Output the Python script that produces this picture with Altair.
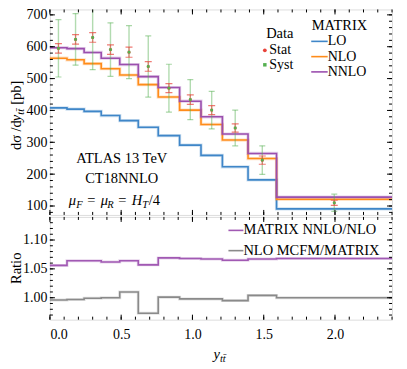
import altair as alt
import pandas as pd

# ---------------- data ----------------
edges = [0.0, 0.12, 0.24, 0.36, 0.49, 0.62, 0.76, 0.91, 1.06, 1.21, 1.39, 1.59, 2.4]
lo = [408, 404, 397, 384, 368, 347, 321, 291, 259, 223, 182, 91]
nlo = [564, 559, 547, 531, 511, 481, 442, 401, 356, 307, 249, 121]
nnlo = [597, 594, 582, 564, 544, 506, 472, 429, 380, 326, 265, 128]
data_val = [595, 623, 629, 591, 583, 538, 470, 434, 401, 345, 244, 110]
stat_err = [15, 15, 15, 15, 16, 15, 14, 15, 14, 13, 13, 8]
syst_err = [90, 81, 101, 84, 83, 96, 75, 63, 59, 56, 45, 27]
ratio_nnlo_nlo = [1.056, 1.064, 1.064, 1.062, 1.064, 1.057, 1.069, 1.068, 1.067, 1.065, 1.067, 1.068]
ratio_mcfm = [0.996, 0.997, 0.999, 1.000, 1.010, 0.973, 1.001, 0.998, 0.998, 0.995, 1.004, 1.000]

x_major = [0.0, 0.5, 1.0, 1.5, 2.0]
x_minor = [round(0.1 * i, 1) for i in range(25)]
y_major = [100, 200, 300, 400, 500, 600, 700]
y_minor = list(range(80, 720, 20))
r_major = [1.00, 1.05, 1.10]
r_minor = [round(0.97 + 0.01 * i, 2) for i in range(17)]

series_names = ["LO", "NLO", "NNLO"]
series_colors = ["#3f86c8", "#ff8c1a", "#9b4fae"]
ratio_names = ["MATRIX NNLO/NLO", "NLO MCFM/MATRIX"]
ratio_colors = ["#a159b3", "#8a8a8a"]

# ---------------- layout / style ----------------
W, H, HR = 343, 206, 103
FONT = "Liberation Serif"
FS = 14.5
GREEN = "#55b04f"
RED = "#e8433a"

xs = alt.Scale(domain=[0, 2.4], nice=False, zero=False)
ys = alt.Scale(domain=[72, 717], nice=False, zero=False)
rs = alt.Scale(domain=[0.962, 1.140], nice=False, zero=False)

y_axis = alt.Axis(values=y_major, ticks=False, domain=False, grid=False, title=None,
                  labelPadding=3, labelFont=FONT, labelFontSize=14, labelColor="black")
r_axis = alt.Axis(values=r_major, format=".2f", ticks=False, domain=False, grid=False, title=None,
                  labelPadding=3, labelFont=FONT, labelFontSize=14, labelColor="black")
x_axis = alt.Axis(values=x_major, format=".1f", ticks=False, domain=False, grid=False, title=None,
                  labelPadding=8, labelFont=FONT, labelFontSize=14, labelColor="black")


def xm(f):
    return alt.X(f, type="quantitative", scale=xs, axis=None)


def xr(f):
    return alt.X(f, type="quantitative", scale=xs, axis=x_axis)


def ym(f):
    return alt.Y(f, type="quantitative", scale=ys, axis=y_axis)


def yr(f):
    return alt.Y(f, type="quantitative", scale=rs, axis=r_axis)


def steps(vals):
    return pd.DataFrame({"x": edges, "y": list(vals) + [vals[-1]]})


def text(t, x, y, size=FS, align="left", baseline="middle", style="normal", angle=0, color="black"):
    return alt.Chart(pd.DataFrame({"t": [t]})).mark_text(
        font=FONT, fontSize=size, align=align, baseline=baseline, fontStyle=style,
        angle=angle, color=color
    ).encode(text="t:N", x=alt.value(x), y=alt.value(y))


def frame_ticks(xenc, yenc, xvals_major, yvals_major, xvals_minor, yvals_minor, h):
    layers = []
    for vals, ln in ((xvals_minor, 3), (xvals_major, 5)):
        d = pd.DataFrame({"t": vals})
        layers.append(alt.Chart(d).mark_rule(color="black", strokeWidth=1).encode(
            x=xenc("t"), y=alt.value(0), y2=alt.value(ln)))
        layers.append(alt.Chart(d).mark_rule(color="black", strokeWidth=1).encode(
            x=xenc("t"), y=alt.value(h - ln), y2=alt.value(h)))
    for vals, ln in ((yvals_minor, 3), (yvals_major, 5)):
        d = pd.DataFrame({"t": vals})
        layers.append(alt.Chart(d).mark_rule(color="black", strokeWidth=1).encode(
            y=yenc("t"), x=alt.value(0), x2=alt.value(ln)))
        layers.append(alt.Chart(d).mark_rule(color="black", strokeWidth=1).encode(
            y=yenc("t"), x=alt.value(W - ln), x2=alt.value(W)))
    return layers


# ---------------- main panel ----------------
main_layers = []
for vals, c in zip([lo, nlo, nnlo], series_colors):
    d = steps(vals)
    main_layers.append(alt.Chart(d).mark_line(interpolate="step-after", strokeWidth=3.2, opacity=0.25, color=c).encode(
        x=xm("x"), y=ym("y")))
    main_layers.append(alt.Chart(d).mark_line(interpolate="step-after", strokeWidth=1.6, color=c).encode(
        x=xm("x"), y=ym("y")))

centers = [(edges[i] + edges[i + 1]) / 2 for i in range(len(data_val))]
pts = pd.DataFrame({
    "x": centers, "v": data_val,
    "st_lo": [v - e for v, e in zip(data_val, stat_err)],
    "st_hi": [v + e for v, e in zip(data_val, stat_err)],
    "sy_lo": [v - e for v, e in zip(data_val, syst_err)],
    "sy_hi": [v + e for v, e in zip(data_val, syst_err)],
})
pbase = alt.Chart(pts)
main_layers += [
    pbase.mark_rule(color=GREEN, opacity=0.45, strokeWidth=1.4, clip=True).encode(
        x=xm("x"), y=ym("sy_lo"), y2="sy_hi"),
    pbase.mark_tick(orient="horizontal", color=GREEN, opacity=0.5, size=6, thickness=1.2, clip=True).encode(
        x=xm("x"), y=ym("sy_lo")),
    pbase.mark_tick(orient="horizontal", color=GREEN, opacity=0.5, size=6, thickness=1.2, clip=True).encode(
        x=xm("x"), y=ym("sy_hi")),
    pbase.mark_rule(color=RED, opacity=0.6, strokeWidth=1.2, clip=True).encode(
        x=xm("x"), y=ym("st_lo"), y2="st_hi"),
    pbase.mark_tick(orient="horizontal", color=RED, opacity=0.7, size=7, thickness=1.2, clip=True).encode(
        x=xm("x"), y=ym("st_lo")),
    pbase.mark_tick(orient="horizontal", color=RED, opacity=0.7, size=7, thickness=1.2, clip=True).encode(
        x=xm("x"), y=ym("st_hi")),
    pbase.mark_circle(color=RED, size=10, opacity=0.8).encode(x=xm("x"), y=ym("v")),
    pbase.mark_square(color=GREEN, size=7, opacity=1).encode(x=xm("x"), y=ym("v")),
]
main_layers += frame_ticks(xm, ym, x_major, y_major, x_minor, y_minor, H)

# legend (main)
leg = []
leg.append(text("Data", 230.5, 25, align="center"))
leg.append(alt.Chart(pd.DataFrame({"a": [0]})).mark_circle(color=RED, size=14, opacity=1).encode(
    x=alt.value(215.5), y=alt.value(41)))
leg.append(text("Stat", 220, 41, size=14))
leg.append(alt.Chart(pd.DataFrame({"a": [0]})).mark_square(color=GREEN, size=12, opacity=1).encode(
    x=alt.value(215.5), y=alt.value(55.5)))
leg.append(text("Syst", 220, 55.5, size=14))
leg.append(text("MATRIX", 262.5, 17))
for i, (nm, c) in enumerate(zip(series_names, series_colors)):
    yy = 32 + 15.3 * i
    leg.append(alt.Chart(pd.DataFrame({"a": [0]})).mark_rule(color=c, strokeWidth=1.6).encode(
        x=alt.value(262), x2=alt.value(278.5), y=alt.value(yy)))
    leg.append(text(nm, 278.5, yy, size=14))

# annotation
leg.append(text("ATLAS 13 TeV", 72, 150, align="center"))
leg.append(text("CT18NNLO", 72, 170, align="center"))
mu_pieces = [("μ", 19, 0, "italic", FS), ("F", 26.5, 3, "italic", 10.5), ("=", 37.5, 0, "normal", FS),
             ("μ", 51, 0, "italic", FS), ("R", 57.5, 3, "italic", 10.5), ("=", 68.5, 0, "normal", FS),
             ("H", 82, 0, "italic", FS), ("T", 92.5, 3, "italic", 10.5), ("/4", 99, 0, "normal", FS)]
for t, x, dy, st, sz in mu_pieces:
    leg.append(text(t, x, 196 + dy, size=sz, baseline="alphabetic", style=st))

# y title (rotated, composed)
yt_x = -29
leg.append(text("dσ /d", yt_x, 141, baseline="alphabetic", angle=270))
leg.append(text("y", yt_x, 112, baseline="alphabetic", angle=270, style="italic"))
leg.append(text("tt\u0304", yt_x + 3, 105.5, size=10.5, baseline="alphabetic", angle=270, style="italic"))
leg.append(text("[pb]", yt_x, 95.5, baseline="alphabetic", angle=270))

main = alt.layer(*main_layers, *leg).properties(width=W, height=H)

# ---------------- ratio panel ----------------
r_layers = []
for vals, c in zip([ratio_nnlo_nlo, ratio_mcfm], ratio_colors):
    d = steps(vals)
    r_layers.append(alt.Chart(d).mark_line(interpolate="step-after", strokeWidth=3, opacity=0.25, color=c).encode(
        x=xr("x"), y=yr("y")))
    r_layers.append(alt.Chart(d).mark_line(interpolate="step-after", strokeWidth=1.6, color=c).encode(
        x=xr("x"), y=yr("y")))
r_layers += frame_ticks(xr, yr, x_major, r_major, x_minor, r_minor, HR)

rleg = []
for i, (nm, c) in enumerate(zip(ratio_names, ratio_colors)):
    yy = 13.5 + 20.3 * i
    rleg.append(alt.Chart(pd.DataFrame({"a": [0]})).mark_rule(color=c, strokeWidth=1.6).encode(
        x=alt.value(179), x2=alt.value(194), y=alt.value(yy)))
    rleg.append(text(nm, 194, yy))
rleg.append(text("Ratio", yt_x, HR / 2, baseline="alphabetic", angle=270, align="center"))
rleg.append(text("y", 164, 142, baseline="alphabetic", style="italic"))
rleg.append(text("tt\u0304", 170.5, 145, size=10.5, baseline="alphabetic", style="italic"))

ratio = alt.layer(*r_layers, *rleg).properties(width=W, height=HR)

chart = alt.vconcat(main, ratio, spacing=0).properties(
    padding={"left": 0, "top": -2, "right": 0, "bottom": 0}
).configure_view(stroke="black", strokeWidth=1.5).configure(font=FONT)

chart.save("out.html", embed_options={"renderer": "svg", "actions": False})
